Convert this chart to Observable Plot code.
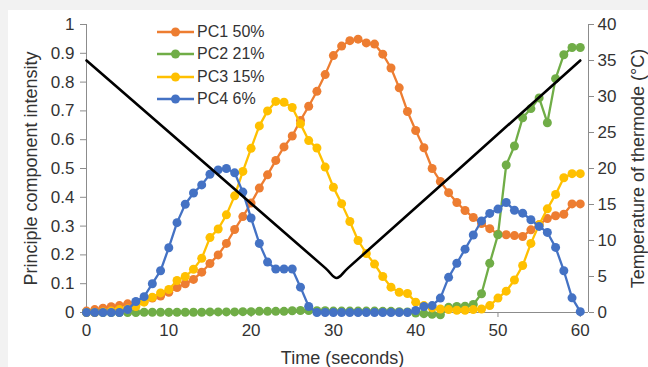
<!DOCTYPE html>
<html>
<head>
<meta charset="utf-8">
<script src="https://cdn.jsdelivr.net/npm/d3@7"></script>
<script src="https://cdn.jsdelivr.net/npm/@observablehq/plot@0.6"></script>
<style>
  html, body { margin: 0; padding: 0; background: #f2f2f2; }
  #wrap { position: relative; width: 648px; height: 367px; overflow: hidden; }
  #panel { position: absolute; left: 8px; top: 10px; width: 640px; height: 357px; background: #ffffff; }
  #chart { position: absolute; left: 0; top: 0; }
  #legend { position: absolute; left: 157px; top: 21px; font-family: "Liberation Sans", Arial, sans-serif; font-size: 16px; color: #333; }
  .row { display: flex; align-items: center; height: 22.3px; }
  .row svg { display: block; margin-right: 3px; }
</style>
</head>
<body>
<div id="wrap">
  <div id="panel"></div>
  <div id="chart"></div>
  <div id="legend"></div>
</div>
<script>
// ---- data ----
const time = [0,1,2,3,4,5,6,7,8,9,10,11,12,13,14,15,16,17,18,19,20,21,22,23,24,25,26,27,28,29,30,
  31,32,33,34,35,36,37,38,39,40,41,42,43,44,45,46,47,48,49,50,51,52,53,54,55,56,57,58,59,60];
const pc1 = [0.005,0.01,0.015,0.02,0.024,0.03,0.035,0.04,0.05,0.057,0.07,0.087,0.1,0.115,0.14,0.17,0.2,0.24,0.288,0.333,
  0.38,0.432,0.478,0.528,0.575,0.613,0.667,0.716,0.768,0.826,0.892,0.925,0.944,0.949,0.936,0.932,0.897,0.849,0.78,0.698,
  0.632,0.572,0.5,0.455,0.416,0.382,0.354,0.33,0.309,0.291,0.272,0.27,0.267,0.264,0.287,0.305,0.326,0.336,0.341,0.377,0.377];
const pc2 = [0,0,0,0,0,0,0,0.001,0.001,0.001,0.001,0.001,0.001,0.001,0.001,0.002,0.002,0.002,0.002,0.003,
  0.003,0.004,0.004,0.004,0.004,0.006,0.007,0.007,0.006,0.006,0.005,0.005,0.005,0.005,0.005,0.005,0.004,0.004,0.003,0.002,
  -0.002,-0.004,-0.006,-0.008,0.018,0.021,0.022,0.028,0.065,0.171,0.27,0.512,0.578,0.676,0.708,0.745,0.659,0.812,0.895,0.92,0.92];
const pc3 = [0,0,0.002,0.005,0.01,0.012,0.021,0.036,0.053,0.068,0.08,0.111,0.125,0.15,0.188,0.26,0.29,0.339,0.405,0.49,
  0.57,0.648,0.7,0.733,0.73,0.712,0.655,0.597,0.571,0.505,0.435,0.378,0.316,0.25,0.205,0.168,0.125,0.088,0.07,0.066,
  0.036,0.024,0.016,0.012,0.01,0.008,0.008,0.01,0.012,0.024,0.05,0.074,0.113,0.163,0.24,0.305,0.36,0.41,0.468,0.482,0.482];
const pc4 = [0,0,0,0,0,0.01,0.038,0.055,0.1,0.145,0.225,0.312,0.376,0.415,0.443,0.48,0.495,0.5,0.485,0.418,
  0.328,0.24,0.175,0.151,0.151,0.151,0.088,0.021,0,0,0,0,0,0,0,0,0,0,0,0,
  0.007,0.021,0.024,0.05,0.122,0.171,0.22,0.269,0.318,0.344,0.359,0.382,0.355,0.345,0.322,0.299,0.278,0.226,0.145,0.051,0.003];
const tempTime = [0, 29, 30.4, 31.8, 60];
const tempC = [35, 6.2, 4.8, 6.2, 35];

const seriesNames = ["PC1 50%", "PC2 21%", "PC3 15%", "PC4 6%"];
const seriesColors = ["#ED7D31", "#70AD47", "#FFC000", "#4472C4"];
const xTicks = [0, 10, 20, 30, 40, 50, 60];
const yTicks = [0, 0.1, 0.2, 0.3, 0.4, 0.5, 0.6, 0.7, 0.8, 0.9, 1];
const yTickLabels = ["0", "0.1", "0.2", "0.3", "0.4", "0.5", "0.6", "0.7", "0.8", "0.9", "1"];
const tempTicks = [0, 5, 10, 15, 20, 25, 30, 35, 40];
const tempMax = 40;
const xLabel = "Time (seconds)";
const yLabel = "Principle component intensity";
const y2Label = "Temperature of thermode (°C)";

// ---- build ----
const allSeries = [pc1, pc2, pc3, pc4];
const rows = [];
allSeries.forEach((vals, i) => vals.forEach((v, j) => rows.push({t: time[j], v, s: seriesNames[i]})));
const tempRows = tempTime.map((t, i) => ({t, v: tempC[i] / tempMax}));
const axisColor = "#8c8c8c";
const textColor = "#333333";

const seriesMarks = seriesNames.flatMap((name, i) => {
  const d = rows.filter(r => r.s === name);
  return [
    Plot.line(d, {x: "t", y: "v", stroke: seriesColors[i], strokeWidth: 2.3}),
    Plot.dot(d, {x: "t", y: "v", fill: seriesColors[i], r: 4.5, stroke: "none"})
  ];
});

const labelOpts = {text: d => d, fontSize: 18, fill: textColor, textAnchor: "middle", lineAnchor: "middle"};

const chart = Plot.plot({
  width: 648,
  height: 367,
  marginLeft: 86,
  marginRight: 60,
  marginTop: 24,
  marginBottom: 55,
  style: {fontFamily: "'Liberation Sans', Arial, sans-serif", fontSize: "17px", color: textColor, background: "transparent", overflow: "visible"},
  x: {domain: [0, 61]},
  y: {domain: [0, 1]},
  marks: [
    Plot.ruleY([0], {stroke: axisColor, strokeWidth: 1}),
    Plot.ruleX([0], {stroke: axisColor, strokeWidth: 1}),
    Plot.ruleX([61], {stroke: axisColor, strokeWidth: 1}),
    Plot.axisX({ticks: xTicks, tickSize: 5, tickPadding: 6, stroke: axisColor, fill: textColor, label: null, fontSize: 17, tickFormat: d => String(d)}),
    Plot.axisY({anchor: "left", ticks: yTicks, tickSize: 6, tickPadding: 6, stroke: axisColor, fill: textColor, label: null, fontSize: 17,
      tickFormat: d => yTickLabels[yTicks.findIndex(t => Math.abs(t - d) < 1e-9)]}),
    Plot.axisY({anchor: "right", ticks: tempTicks.map(t => t / tempMax), tickSize: 5, tickPadding: 4, stroke: axisColor, fill: textColor, label: null, fontSize: 17,
      tickFormat: d => String(Math.round(d * tempMax))}),
    ...seriesMarks,
    Plot.line(tempRows, {x: "t", y: "v", stroke: "#000000", strokeWidth: 2.6, curve: "catmull-rom"}),
    Plot.text([yLabel], {...labelOpts, frameAnchor: "left", rotate: -90, dx: -55}),
    Plot.text([y2Label], {...labelOpts, frameAnchor: "right", rotate: -90, dx: 50}),
    Plot.text([xLabel], {...labelOpts, frameAnchor: "bottom", dy: 46, dx: 5})
  ]
});
document.getElementById("chart").appendChild(chart);

// legend
const legend = document.getElementById("legend");
seriesNames.forEach((name, i) => {
  const row = document.createElement("div");
  row.className = "row";
  row.innerHTML = `<svg width="37" height="14"><line x1="0" y1="7" x2="37" y2="7" stroke="${seriesColors[i]}" stroke-width="2.3"/><circle cx="18.5" cy="7" r="4.5" fill="${seriesColors[i]}"/></svg><span>${name}</span>`;
  legend.appendChild(row);
});
</script>
</body>
</html>
